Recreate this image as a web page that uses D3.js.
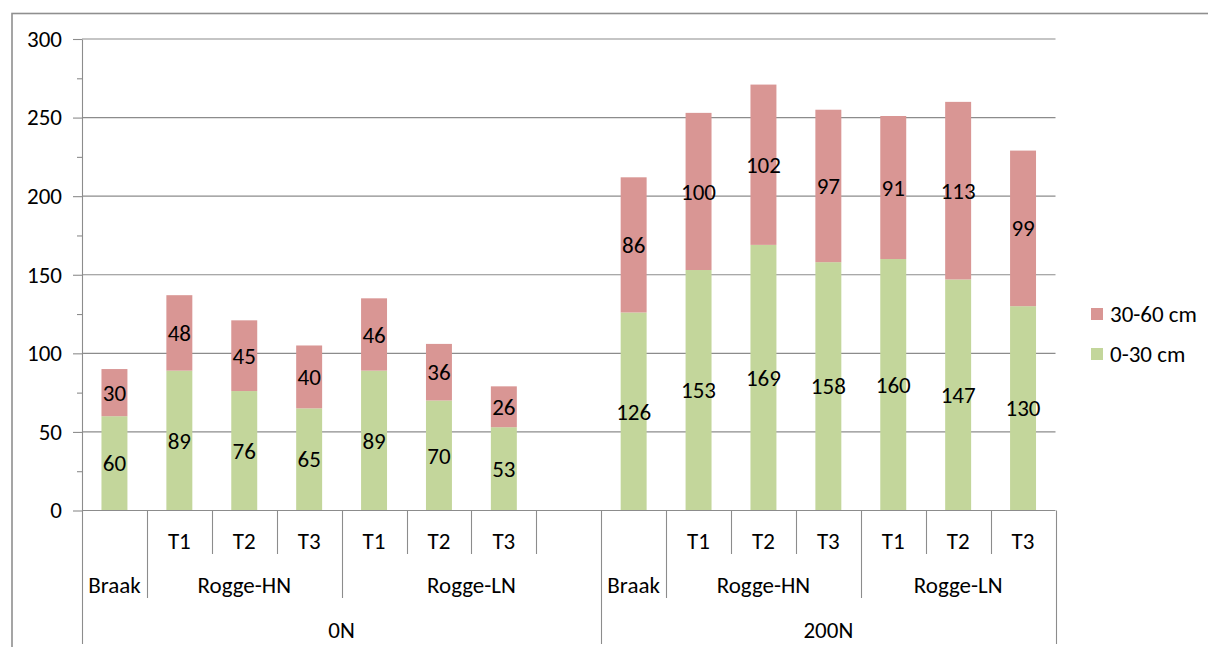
<!DOCTYPE html>
<html>
<head>
<meta charset="utf-8">
<script src="https://cdn.jsdelivr.net/npm/d3@7"></script>
<style>
  html, body { margin: 0; padding: 0; background: #fff; }
  svg { display: block; font-family: Carlito, Calibri, Lato, sans-serif; }
</style>
</head>
<body>
<svg id="chart" width="1208" height="647"></svg>
<script>
// Nitrogen rate, cover crop and sampling time for each slot on the category axis
const nRates  = ["0N","0N","0N","0N","0N","0N","0N","0N",
                 "200N","200N","200N","200N","200N","200N","200N"];
const crops   = ["Braak","Rogge-HN","Rogge-HN","Rogge-HN","Rogge-LN","Rogge-LN","Rogge-LN","Rogge-LN",
                 "Braak","Rogge-HN","Rogge-HN","Rogge-HN","Rogge-LN","Rogge-LN","Rogge-LN"];
const timings = ["","T1","T2","T3","T1","T2","T3","",
                 "","T1","T2","T3","T1","T2","T3"];

// Soil layer values per slot (empty slot has no bar)
const layer0to30  = [60, 89, 76, 65, 89, 70, 53, null, 126, 153, 169, 158, 160, 147, 130];
const layer30to60 = [30, 48, 45, 40, 46, 36, 26, null,  86, 100, 102,  97,  91, 113,  99];

const seriesNames  = ["0-30 cm", "30-60 cm"];
const seriesColors = ["#c3d69b", "#d99694"];
const yTicks = [0, 50, 100, 150, 200, 250, 300];
const yMinorTicks = [25, 75, 125, 175, 225, 275];

const svg = d3.select("#chart");
const plotLeft = 82, plotRight = 1055.5, plotTop = 39, plotBottom = 510.5;
const axisColor = "#8c8c8c";
const fontSize = 23;

// Outer chart border
svg.append("rect")
  .attr("x", 12).attr("y", 13.5)
  .attr("width", 1300).attr("height", 800)
  .attr("fill", "none").attr("stroke", "#8f8f8f").attr("stroke-width", 1.6);

const slotIds = d3.range(nRates.length).map(String);
const x = d3.scaleBand().domain(slotIds).range([plotLeft, plotRight])
  .paddingInner(0.6).paddingOuter(0.3);
const step = x.step();
const slotStart = i => plotLeft + i * step;

const y = d3.scaleLinear().domain([0, 300]).range([plotBottom, plotTop]);

// Horizontal gridlines
svg.append("g").selectAll("line")
  .data(yTicks.filter(t => t > 0))
  .join("line")
  .attr("x1", plotLeft).attr("x2", plotRight)
  .attr("y1", d => y(d)).attr("y2", d => y(d))
  .attr("stroke", axisColor).attr("stroke-width", 1.1);

// Value axis with major and minor ticks
const yAxis = svg.append("g").attr("transform", `translate(${plotLeft},0)`)
  .call(d3.axisLeft(y).tickValues(yTicks).tickSize(9).tickPadding(11).tickSizeOuter(0));
yAxis.select(".domain").attr("stroke", axisColor).attr("stroke-width", 1.1);
yAxis.selectAll(".tick line").attr("stroke", axisColor).attr("stroke-width", 1.1);
yAxis.selectAll(".tick text")
  .attr("font-size", fontSize).attr("fill", "#000")
  .attr("font-family", "Carlito, Calibri, Lato, sans-serif");

const yMinor = svg.append("g").attr("transform", `translate(${plotLeft},0)`)
  .call(d3.axisLeft(y).tickValues(yMinorTicks).tickSize(5).tickFormat(""));
yMinor.select(".domain").remove();
yMinor.selectAll(".tick line").attr("stroke", axisColor).attr("stroke-width", 1.1);

// Stacked bars
const rows = slotIds.map((id, i) => ({
  id, "0-30 cm": layer0to30[i], "30-60 cm": layer30to60[i]
}));
const stacked = d3.stack().keys(seriesNames).value((d, k) => d[k] || 0)(rows);

const layers = svg.append("g").selectAll("g")
  .data(stacked).join("g")
  .attr("fill", (d, i) => seriesColors[i]);

layers.selectAll("rect")
  .data(d => d.filter(s => s.data[d.key] != null))
  .join("rect")
  .attr("x", d => x(d.data.id))
  .attr("width", x.bandwidth())
  .attr("y", d => y(d[1]))
  .attr("height", d => y(d[0]) - y(d[1]));

// Data labels centred in each segment
layers.selectAll("text")
  .data(d => d.filter(s => s.data[d.key] != null).map(s => ({s, key: d.key})))
  .join("text")
  .attr("x", d => x(d.s.data.id) + x.bandwidth() / 2)
  .attr("y", d => y((d.s[0] + d.s[1]) / 2))
  .attr("dy", "0.35em")
  .attr("text-anchor", "middle")
  .attr("font-size", fontSize)
  .attr("fill", "#000")
  .text(d => d.s.data[d.key]);

// Multi-level category axis
const catAxis = svg.append("g");
catAxis.append("line")
  .attr("x1", plotLeft).attr("x2", plotRight).attr("y1", plotBottom).attr("y2", plotBottom)
  .attr("stroke", axisColor).attr("stroke-width", 1.1);

const rowEnds = [554, 598, 644];
for (let b = 0; b <= nRates.length; b++) {
  let level;
  if (b === 0 || b === nRates.length || nRates[b] !== nRates[b - 1]) level = 2;
  else if (crops[b] !== crops[b - 1]) level = 1;
  else level = 0;
  const xb = Math.round(slotStart(b)) + 0.5;
  catAxis.append("line")
    .attr("x1", xb).attr("x2", xb).attr("y1", plotBottom).attr("y2", rowEnds[level])
    .attr("stroke", axisColor).attr("stroke-width", 1.1);
}

// Group consecutive equal keys into spans
function spans(keyFn) {
  const out = [];
  for (let i = 0; i < nRates.length; i++) {
    const k = keyFn(i);
    if (out.length && out[out.length - 1].key === k) out[out.length - 1].end = i + 1;
    else out.push({key: k, start: i, end: i + 1});
  }
  return out;
}

const label = (txt, cx, cy) => catAxis.append("text")
  .attr("x", cx).attr("y", cy).attr("dy", "0.35em")
  .attr("text-anchor", "middle").attr("font-size", fontSize).attr("fill", "#000")
  .text(txt);

timings.forEach((t, i) => { if (t) label(t, slotStart(i) + step / 2, 541); });
spans(i => nRates[i] + "|" + crops[i]).forEach(s =>
  label(crops[s.start], (slotStart(s.start) + slotStart(s.end)) / 2, 585));
spans(i => nRates[i]).forEach(s =>
  label(nRates[s.start], (slotStart(s.start) + slotStart(s.end)) / 2, 630));

// Legend (top entry is the upper stack segment)
const legendItems = [
  {name: seriesNames[1], color: seriesColors[1], cy: 314},
  {name: seriesNames[0], color: seriesColors[0], cy: 354}
];
const legend = svg.append("g").selectAll("g").data(legendItems).join("g");
legend.append("rect")
  .attr("x", 1091).attr("y", d => d.cy - 6).attr("width", 12).attr("height", 12)
  .attr("fill", d => d.color);
legend.append("text")
  .attr("x", 1110).attr("y", d => d.cy).attr("dy", "0.35em")
  .attr("font-size", fontSize).attr("fill", "#000")
  .text(d => d.name);
</script>
</body>
</html>
